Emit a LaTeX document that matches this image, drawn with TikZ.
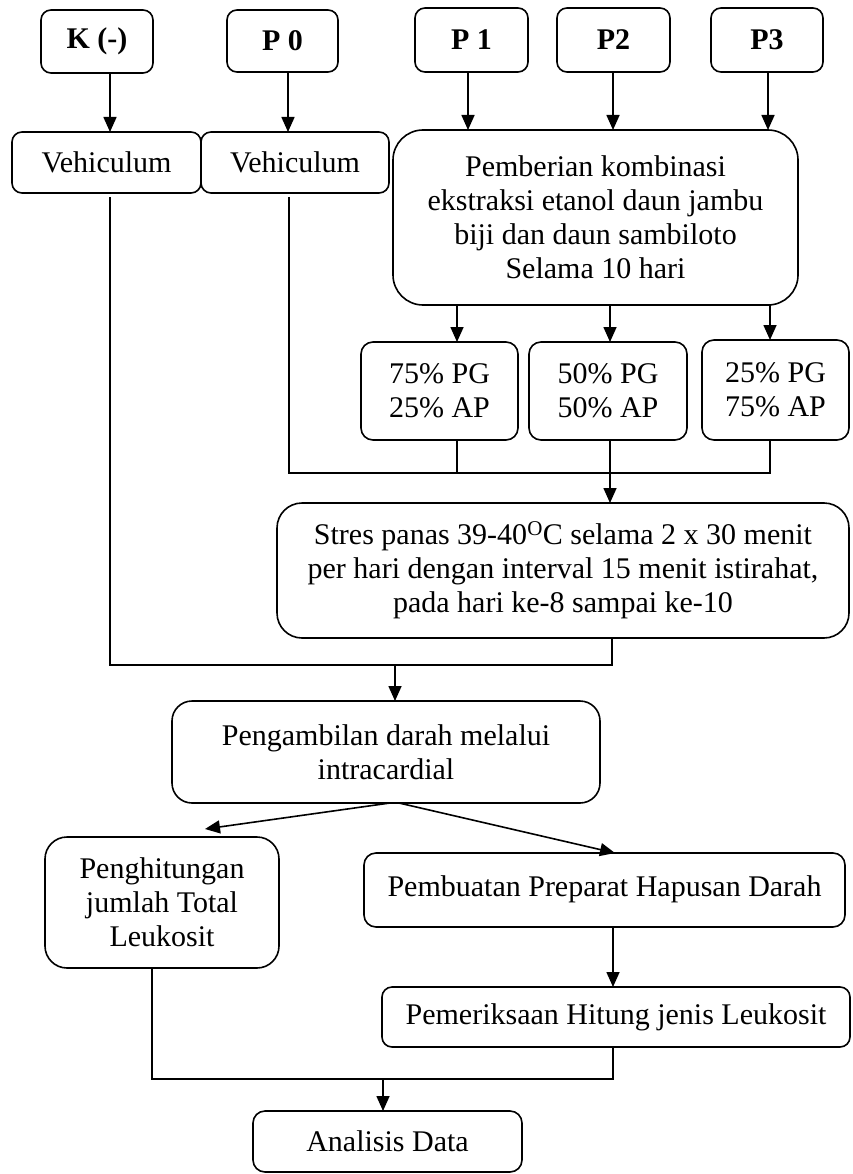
\documentclass[tikz,border=0pt]{standalone}
\usepackage{fontspec}
\setmainfont{Liberation Serif}
\usetikzlibrary{arrows.meta,calc}
\begin{document}
\begin{tikzpicture}[x=1pt,y=-1pt,
  bx/.style={draw, line width=1.6pt, rounded corners=#1, align=center, inner sep=0pt, outer sep=0pt, font=\fontsize{30}{34}\selectfont},
  bx/.default=10pt,
  hd/.style={font=\fontsize{30}{34}\selectfont\bfseries},
  ln/.style={line width=1.6pt},
  arr/.style={line width=1.6pt, -{Triangle[width=13pt,length=15pt]}}
]
\useasboundingbox (0,0) rectangle (852,1174);
% top row
\node[bx, hd, minimum width=112pt, minimum height=63pt] (K) at (97,41.5) {K (-)};
\node[bx, hd, minimum width=111pt, minimum height=62pt] (P0) at (282.5,41) {P 0};
\node[bx, hd, minimum width=113pt, minimum height=64pt] (P1) at (471.5,40) {P 1};
\node[bx, hd, minimum width=113pt, minimum height=64pt] (P2) at (613.5,40) {P2};
\node[bx, hd, minimum width=112pt, minimum height=64pt] (P3) at (767,40) {P3};
% second row
\node[bx, minimum width=189pt, minimum height=61pt] (V1) at (106.5,162.5) {Vehiculum};
\node[bx, minimum width=188pt, minimum height=61pt] (V2) at (295,162.5) {Vehiculum};
\node[bx=30pt, minimum width=405pt, minimum height=175pt] (PB) at (595.5,217.5)
  {Pemberian kombinasi\\ekstraksi etanol daun jambu\\biji dan daun sambiloto\\Selama 10 hari};
% dose boxes
\node[bx=12pt, minimum width=157pt, minimum height=98pt] (B1) at (439.5,391) {75\% PG\\25\% AP};
\node[bx=12pt, minimum width=158pt, minimum height=98pt] (B2) at (608,391) {50\% PG\\50\% AP};
\node[bx=12pt, minimum width=147pt, minimum height=100pt] (B3) at (775.5,390) {25\% PG\\75\% AP};
% heat stress
\node[bx=25pt, minimum width=572pt, minimum height=135pt] (ST) at (563,570.5)
  {Stres panas 39-40\textsuperscript{O}C selama 2 x 30 menit\\per hari dengan interval 15 menit istirahat,\\pada hari ke-8 sampai ke-10};
% blood sampling
\node[bx=20pt, minimum width=428pt, minimum height=102pt] (PA) at (386,752) {Pengambilan darah melalui\\intracardial};
\node[bx=22pt, minimum width=234pt, minimum height=131pt] (PH) at (162,902.5) {Penghitungan\\jumlah Total\\Leukosit};
\node[bx=12pt, minimum width=481pt, minimum height=74pt] (PM) at (604.5,890) {\raisebox{8pt}{Pembuatan Preparat Hapusan Darah}};
\node[bx=10pt, minimum width=468pt, minimum height=60pt] (PE) at (616,1017) {Pemeriksaan Hitung jenis Leukosit};
\node[bx=12pt, minimum width=269pt, minimum height=61pt] (AD) at (387.5,1141.5) {Analisis Data};

% junction coordinates
\coordinate (m1L) at (289,473);
\coordinate (m1R) at (770,473);
\coordinate (m2L) at (110,665);
\coordinate (m2R) at (612,665);
\coordinate (m2A) at (395,665);
\coordinate (tipL) at (205,829);
\coordinate (m3L) at (152,1079);
\coordinate (m3R) at (613,1079);
\coordinate (m3A) at (383,1079);

% top arrows
\draw[arr] ([xshift=13pt]K.south) -- ([xshift=13pt]K.south |- V1.north);
\draw[arr] ([xshift=5.5pt]P0.south) -- ([xshift=5.5pt]P0.south |- V2.north);
\draw[arr] ([xshift=-3.5pt]P1.south) -- ([xshift=-3.5pt]P1.south |- PB.north);
\draw[arr] ([xshift=-0.5pt]P2.south) -- ([xshift=-0.5pt]P2.south |- PB.north);
\draw[arr] ([xshift=1pt]P3.south) -- ([xshift=1pt]P3.south |- PB.north);
% PB to dose boxes
\draw[arr] ([xshift=17.5pt]B1.north |- PB.south) -- ([xshift=17.5pt]B1.north);
\draw[arr] ([xshift=2pt]B2.north |- PB.south) -- ([xshift=2pt]B2.north);
\draw[arr] (m1R |- PB.south) -- (m1R |- B3.north);
% merge to heat stress
\draw[ln] ([xshift=-6pt,yshift=-4pt]V2.south) -- (m1L) -- (m1R) -- (m1R |- B3.south);
\draw[ln] ([xshift=17.5pt]B1.south) -- ([xshift=17.5pt]B1.south |- m1L);
\draw[arr] ([xshift=2pt]B2.south) -- ([xshift=2pt]B2.south |- ST.north);
% merge to blood sampling
\draw[ln] (m2R |- ST.south) -- (m2R) -- (m2L) -- ([xshift=3.5pt,yshift=-4pt]V1.south);
\draw[arr] (m2A) -- (m2A |- PA.north);
% split
\draw[arr] ([xshift=4pt]PA.south) -- (tipL);
\draw[arr] ([xshift=13pt]PA.south) -- ([xshift=10.5pt]PM.north);
\draw[arr] ([xshift=8.5pt]PM.south) -- ([xshift=8.5pt]PM.south |- PE.north);
% merge to analysis
\draw[ln] ([xshift=-10pt]PH.south) -- (m3L) -- (m3R) -- (m3R |- PE.south);
\draw[arr] (m3A) -- (m3A |- AD.north);
\end{tikzpicture}
\end{document}
